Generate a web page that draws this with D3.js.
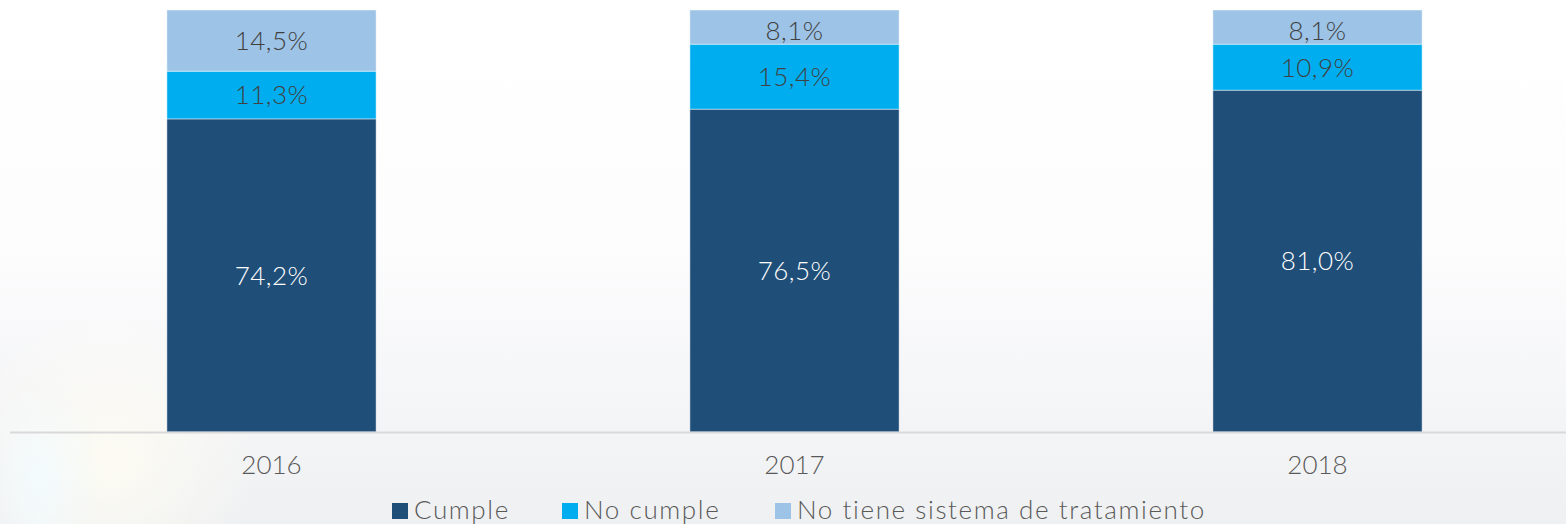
<!DOCTYPE html>
<html>
<head>
<meta charset="utf-8">
<script src="https://cdn.jsdelivr.net/npm/d3@7"></script>
<style>
  body { margin: 0; background: #fff; }
  svg { display: block; font-family: Lato, "Open Sans", sans-serif; font-weight: 300; }
</style>
</head>
<body>
<svg id="chart"></svg>
<script>
var width = 1566, height = 524;
var margin = {top: 10, right: -13, bottom: 92, left: 10};

// data
var years = ["2016", "2017", "2018"];
var seriesNames = ["Cumple", "No cumple", "No tiene sistema de tratamiento"];
var cumple = [74.2, 76.5, 81.0];
var noCumple = [11.3, 15.4, 10.9];
var noTiene = [14.5, 8.1, 8.1];
var colors = ["#1f4e78", "#00aeef", "#9dc3e6"];

var rows = years.map(function(y, i) {
    return {year: y, "Cumple": cumple[i], "No cumple": noCumple[i], "No tiene sistema de tratamiento": noTiene[i]};
});

var svg = d3.select("#chart")
    .attr("width", width)
    .attr("height", height);

// background: white fading to light grey, with a faint flare bottom-left
var defs = svg.append("defs");
var bg = defs.append("linearGradient").attr("id", "bg")
    .attr("x1", 0).attr("y1", 0).attr("x2", 0).attr("y2", 1);
bg.append("stop").attr("offset", "0%").attr("stop-color", "#ffffff");
bg.append("stop").attr("offset", "45%").attr("stop-color", "#fdfdfe");
bg.append("stop").attr("offset", "100%").attr("stop-color", "#eff0f2");

var flare = defs.append("radialGradient").attr("id", "flare")
    .attr("cx", 0.5).attr("cy", 0.5).attr("r", 0.5);
flare.append("stop").attr("offset", "0%").attr("stop-color", "#fffdf2").attr("stop-opacity", 0.8);
flare.append("stop").attr("offset", "100%").attr("stop-color", "#fffdf2").attr("stop-opacity", 0);

var flare2 = defs.append("radialGradient").attr("id", "flare2")
    .attr("cx", 0.5).attr("cy", 0.5).attr("r", 0.5);
flare2.append("stop").attr("offset", "0%").attr("stop-color", "#f2fcff").attr("stop-opacity", 0.8);
flare2.append("stop").attr("offset", "100%").attr("stop-color", "#f2fcff").attr("stop-opacity", 0);

svg.append("rect").attr("width", width).attr("height", height).attr("fill", "url(#bg)");
svg.append("ellipse").attr("cx", 110).attr("cy", 460).attr("rx", 150).attr("ry", 150).attr("fill", "url(#flare)");
svg.append("ellipse").attr("cx", 40).attr("cy", 480).attr("rx", 60).attr("ry", 100).attr("fill", "url(#flare2)");

var g = svg.append("g");

var x = d3.scaleBand()
    .domain(years)
    .range([margin.left, width - margin.right])
    .paddingInner(0.6)
    .paddingOuter(0.3);

var y = d3.scaleLinear()
    .domain([0, 100])
    .range([height - margin.bottom, margin.top]);

var stack = d3.stack().keys(seriesNames);
var layers = stack(rows);

var fmt = function(v) { return d3.format(".1f")(v).replace(".", ","); };

var layer = g.selectAll(".layer")
    .data(layers)
    .enter().append("g")
    .attr("class", "layer")
    .attr("fill", function(d, i) { return colors[i]; });

layer.selectAll("rect")
    .data(function(d) { return d; })
    .enter().append("rect")
    .attr("x", function(d) { return x(d.data.year); })
    .attr("y", function(d) { return y(d[1]); })
    .attr("width", x.bandwidth())
    .attr("height", function(d) { return y(d[0]) - y(d[1]); })
    .attr("stroke", "rgba(255,255,255,0.45)")
    .attr("stroke-width", 1);

// value labels
layer.selectAll("text")
    .data(function(d) { return d; })
    .enter().append("text")
    .attr("x", function(d) { return x(d.data.year) + x.bandwidth() / 2; })
    .attr("y", function(d) {
        var c = (y(d[0]) + y(d[1])) / 2;
        // keep small top labels from poking out of the bar
        return Math.max(c, y(100) + 21);
    })
    .attr("dy", "0.36em")
    .attr("text-anchor", "middle")
    .attr("fill", function(d) { return d3.select(this.parentNode).datum().key == "Cumple" ? "#ffffff" : "#404040"; })
    .style("font-size", "26px")
    .style("letter-spacing", "0.5px")
    .text(function(d) { return fmt(d[1] - d[0]) + "%"; });

// x axis
var xAxis = g.append("g")
    .attr("transform", "translate(0," + y(0) + ")")
    .call(d3.axisBottom(x).tickSize(0).tickPadding(24));
xAxis.select(".domain")
    .attr("d", "M" + margin.left + ",0.5H" + (width + 20))
    .attr("stroke", "#d9d9d9")
    .attr("stroke-width", 2);
xAxis.selectAll("text")
    .attr("fill", "#595959")
    .style("font-size", "26px")
    .style("font-family", "Lato, 'Open Sans', sans-serif")
    .style("font-weight", 300);

// legend
var legendX = [392, 562, 775];
var legend = svg.append("g").attr("transform", "translate(0,519)");
var item = legend.selectAll("g")
    .data(seriesNames)
    .enter().append("g")
    .attr("transform", function(d, i) { return "translate(" + legendX[i] + ",0)"; });
item.append("rect")
    .attr("x", 0).attr("y", -16)
    .attr("width", 16).attr("height", 16)
    .attr("fill", function(d, i) { return colors[i]; });
item.append("text")
    .attr("x", 22)
    .attr("y", 0)
    .attr("fill", "#595959")
    .style("font-size", "26px")
    .style("letter-spacing", "1.6px")
    .text(function(d) { return d; });
</script>
</body>
</html>
